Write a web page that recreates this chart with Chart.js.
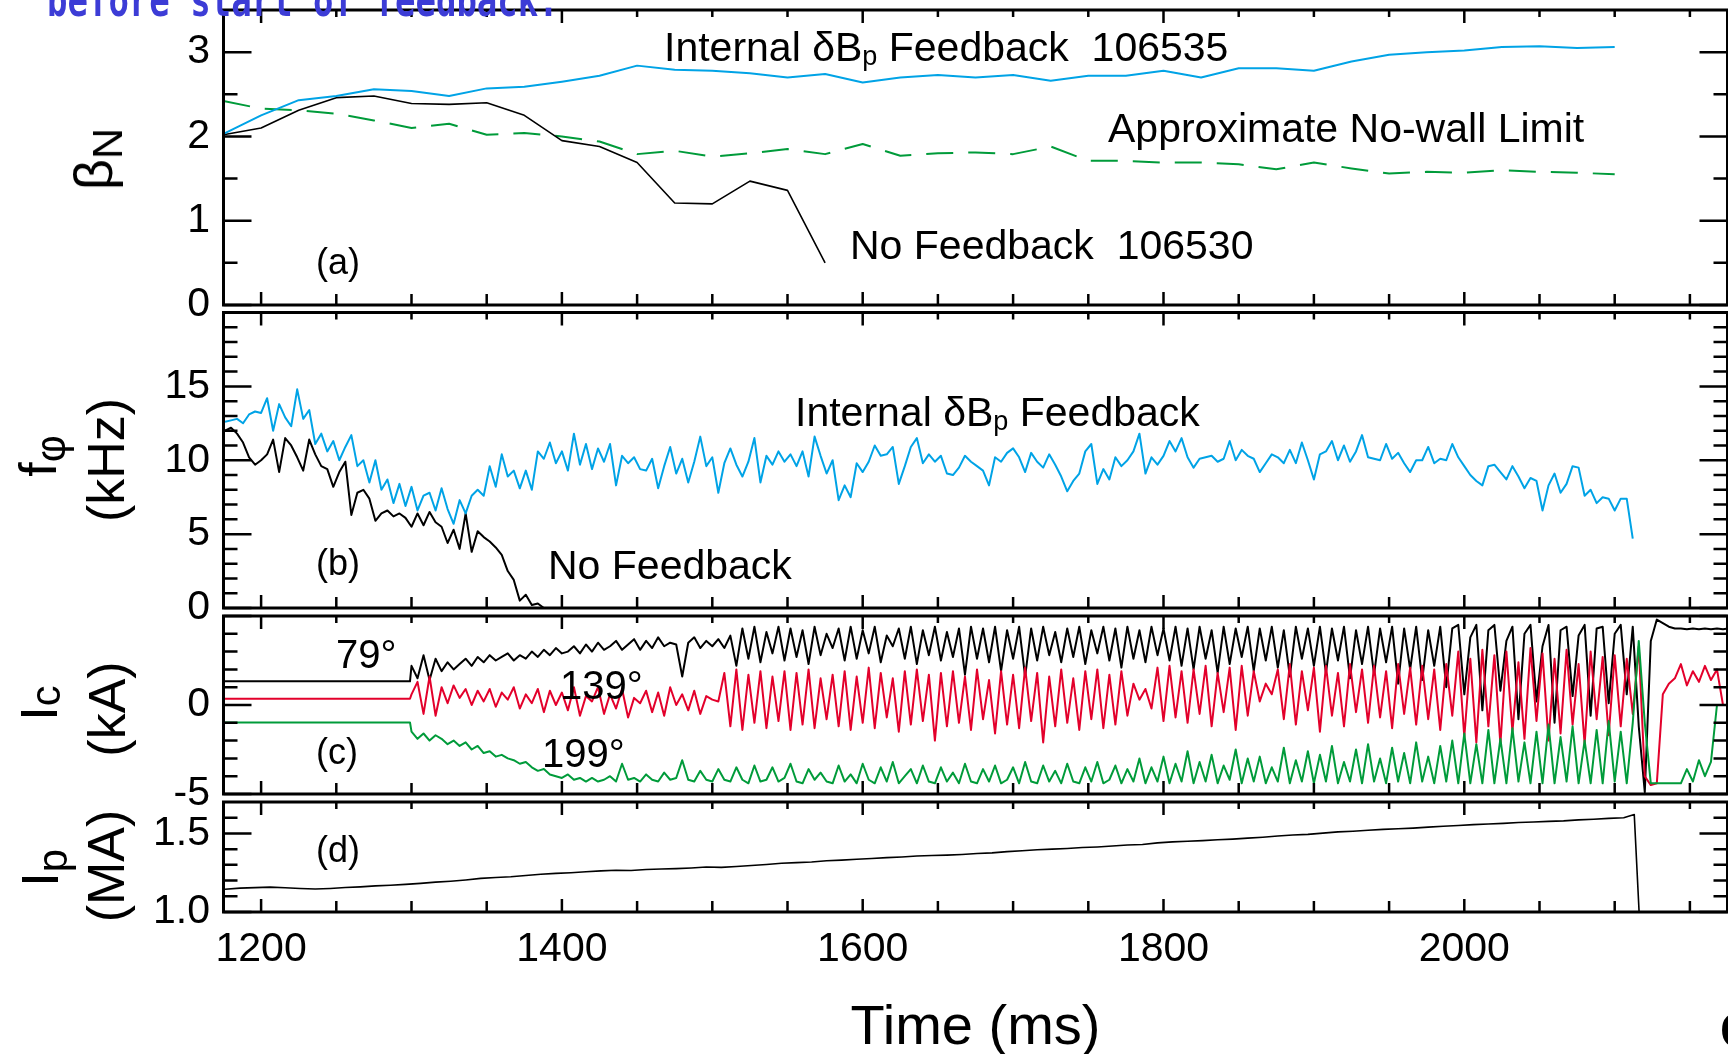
<!DOCTYPE html>
<html>
<head>
<meta charset="utf-8">
<script src="https://cdn.jsdelivr.net/npm/chart.js@4.4.1/dist/chart.umd.min.js"></script>
<style>
  body { margin: 0; background: #fff; width: 1728px; height: 1054px; overflow: hidden; position: relative;
         font-family: "Liberation Sans", Arial, sans-serif; color: #000; }
  canvas { position: absolute; left: 0; top: 0; }
  .t { position: absolute; white-space: nowrap; line-height: 1; font-size: 41px; }
  .sm { font-size: 36px; }
  .deg { font-size: 40px; }
  .sub { font-size: 0.66em; position: relative; top: 0.14em; }
  .yt { position: absolute; white-space: nowrap; line-height: 1; font-size: 52px;
        transform: translate(-50%, -50%) rotate(-90deg); }
  .ys { font-size: 0.8em; position: relative; top: 0.22em; }
  .note { position: absolute; left: 47px; top: -17px; line-height: 1; white-space: pre;
          font: bold 34px "DejaVu Sans Mono", monospace; color: #3c3cd6;
          transform: scaleY(1.35); transform-origin: 0 29px; }
</style>
</head>
<body>
<canvas id="pa" width="1728" height="1054"></canvas>
<canvas id="pb" width="1728" height="1054"></canvas>
<canvas id="pc" width="1728" height="1054"></canvas>
<canvas id="pd" width="1728" height="1054"></canvas>

<div class="note">before start of feedback.</div>

<div class="yt" style="left:93px;top:159px;font-size:54px">β<span class="ys">N</span></div>
<div class="yt" style="left:38px;top:456px">f<span class="ys">φ</span></div>
<div class="yt" style="left:106px;top:460px">(kHz)</div>
<div class="yt" style="left:39px;top:703px">I<span class="ys" style="top:0.08em">c</span></div>
<div class="yt" style="left:107px;top:709px">(kA)</div>
<div class="yt" style="left:40px;top:868px">I<span class="ys">p</span></div>
<div class="yt" style="left:106px;top:866px">(MA)</div>

<div class="t" style="left:664px;top:27px">Internal δB<span class="sub">p</span> Feedback&nbsp;&nbsp;106535</div>
<div class="t" style="left:1108px;top:108px">Approximate No-wall Limit</div>
<div class="t" style="left:850px;top:225px">No Feedback&nbsp;&nbsp;106530</div>
<div class="t sm" style="left:316px;top:244px">(a)</div>
<div class="t" style="left:795px;top:392px">Internal δB<span class="sub">p</span> Feedback</div>
<div class="t sm" style="left:316px;top:545px">(b)</div>
<div class="t" style="left:548px;top:545px">No Feedback</div>
<div class="t deg" style="left:336px;top:634px">79°</div>
<div class="t deg" style="left:560px;top:665px">139°</div>
<div class="t sm" style="left:316px;top:734px">(c)</div>
<div class="t deg" style="left:542px;top:733px">199°</div>
<div class="t sm" style="left:316px;top:832px">(d)</div>
<div class="t" style="left:1720px;top:1006px;font-size:50px;font-weight:bold">C</div>

<script>
// time axis (ms)
const T_MIN = 1175, T_MAX = 2175
const timeLabels = [1200, 1400, 1600, 1800, 2000]
const timeMinor = [1250, 1300, 1350, 1450, 1500, 1550, 1650, 1700, 1750, 1850, 1900, 1950, 2050, 2100, 2150]

// (a) beta_N, one sample every 25 ms from 1175
const betaT0 = 1175, betaDt = 25
const betaFeedback = [2.03, 2.25, 2.43, 2.48, 2.56, 2.54, 2.48, 2.57, 2.59, 2.65,
  2.72, 2.84, 2.79, 2.78, 2.75, 2.70, 2.74, 2.64, 2.70, 2.73,
  2.70, 2.73, 2.66, 2.72, 2.72, 2.78, 2.70, 2.81, 2.81, 2.78,
  2.89, 2.97, 3.00, 3.02, 3.06, 3.07, 3.05, 3.06]
const betaNoWall = [2.42, 2.33, 2.31, 2.27, 2.19, 2.10, 2.15, 2.02, 2.04, 2.00,
  1.94, 1.79, 1.83, 1.76, 1.80, 1.85, 1.79, 1.91, 1.77, 1.80,
  1.81, 1.79, 1.88, 1.71, 1.71, 1.69, 1.69, 1.67, 1.61, 1.69,
  1.62, 1.56, 1.58, 1.57, 1.60, 1.58, 1.57, 1.55]
const betaNoFeedback = [2.02, 2.10, 2.31, 2.46, 2.48, 2.39, 2.38, 2.40, 2.25, 1.95,
  1.88, 1.69, 1.21, 1.20, 1.47, 1.36, 0.50]
const betaTicks = [0, 1, 2, 3]
const betaMinor = [0.5, 1.5, 2.5]

// (b) f_phi (kHz), one sample every 4 ms from 1176
const fT0 = 1176, fDt = 4
const fFeedback = [12.6, 12.7, 12.8, 12.5, 13.1, 13.3, 13.2, 14.2, 12.0, 13.8,
  12.9, 12.3, 14.8, 12.8, 13.4, 11.1, 11.8, 10.6, 11.3, 10.0,
  10.9, 11.7, 9.6, 10.0, 8.5, 10.0, 8.0, 8.7, 7.1, 8.4,
  6.9, 8.2, 6.6, 7.6, 7.8, 6.6, 8.1, 6.7, 5.7, 7.3,
  6.4, 7.6, 8.0, 7.6, 9.6, 8.2, 10.4, 8.9, 9.3, 8.1,
  9.3, 8.0, 10.6, 10.1, 11.2, 9.8, 10.6, 9.3, 11.8, 9.7,
  11.1, 9.4, 10.8, 9.9, 11.1, 8.3, 10.3, 9.8, 10.2, 9.4,
  9.3, 10.1, 8.1, 9.6, 10.9, 9.1, 10.1, 8.5, 9.9, 11.6,
  9.6, 10.2, 7.8, 9.8, 10.8, 9.7, 8.9, 9.9, 11.5, 8.5,
  10.3, 9.7, 10.6, 9.9, 10.4, 9.6, 10.6, 8.9, 11.6, 10.3,
  9.1, 10.0, 7.3, 8.3, 7.5, 9.8, 9.2, 9.9, 11.0, 10.3,
  10.4, 10.9, 8.4, 9.6, 10.9, 11.5, 9.8, 10.4, 9.9, 10.3,
  9.1, 9.0, 9.5, 10.3, 9.9, 9.6, 9.3, 8.3, 10.2, 9.9,
  10.5, 10.8, 10.2, 9.2, 10.5, 9.9, 9.5, 10.4, 9.7, 8.9,
  7.9, 8.6, 9.1, 10.6, 11.1, 8.4, 9.4, 8.7, 10.2, 9.6,
  10.0, 10.6, 11.8, 9.1, 10.2, 9.7, 10.3, 11.3, 10.6, 11.5,
  10.2, 9.5, 10.1, 10.2, 10.3, 9.9, 10.1, 11.3, 10.0, 10.7,
  10.3, 10.1, 9.2, 9.8, 10.4, 10.2, 9.8, 10.7, 9.8, 11.2,
  10.0, 8.7, 10.4, 10.6, 11.3, 10.0, 11.0, 9.9, 10.6, 11.7,
  10.2, 10.1, 10.0, 11.1, 10.1, 10.5, 9.8, 9.2, 10.0, 10.0,
  10.9, 9.8, 10.1, 10.0, 11.1, 10.2, 9.6, 9.0, 8.6, 8.3,
  9.6, 9.7, 9.2, 8.7, 9.6, 8.9, 8.1, 8.8, 8.6, 6.6,
  8.3, 9.1, 7.8, 8.4, 9.6, 9.5, 7.6, 8.0, 7.1, 7.5,
  7.4, 6.6, 7.4, 7.4, 4.7]
const fNoFeedback = [12.0, 12.2, 11.8, 11.2, 10.2, 9.7, 10.0, 10.4, 11.4, 9.2,
  11.5, 11.0, 10.2, 9.3, 11.4, 10.4, 9.6, 9.4, 8.2, 9.2,
  9.9, 6.3, 7.8, 8.0, 7.4, 5.9, 6.4, 6.6, 6.2, 6.4,
  6.1, 5.5, 6.4, 5.6, 6.5, 5.8, 5.5, 4.4, 5.3, 4.0,
  6.4, 3.8, 5.2, 4.8, 4.5, 4.1, 3.6, 2.5, 1.9, 0.5,
  0.9, 0.2, 0.3, 0.0, -0.2]
const fTicks = [0, 5, 10, 15]
const fMinor = [1, 2, 3, 4, 6, 7, 8, 9, 11, 12, 13, 14, 16, 17, 18, 19]

// (c) coil currents (kA): flat until 1300, then one sample every 4 ms
const icPreT = [1175, 1299]
const ic79Pre = 1.33, ic139Pre = 0.35, ic199Pre = -0.98
const icT0 = 1300, icDt = 4
const ic79 = [2.2, 1.5, 2.8, 1.4, 2.6, 1.9, 2.4, 2.0, 2.3, 2.6,
  2.2, 2.7, 2.4, 2.8, 2.5, 2.7, 2.9, 2.5, 2.8, 2.6,
  3.0, 2.7, 3.1, 2.8, 3.2, 2.9, 3.0, 3.3, 2.9, 3.4,
  3.0, 3.5, 3.1, 3.3, 3.6, 3.1, 3.4, 3.7, 3.1, 3.6,
  3.2, 3.8, 3.3, 3.5, 3.4, 1.6, 3.5, 3.8, 3.2, 3.6,
  3.3, 3.7, 3.2, 3.9, 2.2, 4.3, 2.6, 4.4, 2.4, 4.1,
  2.9, 4.4, 2.5, 4.3, 2.7, 4.2, 2.3, 4.4, 2.8, 4.0,
  3.2, 4.3, 2.5, 4.4, 2.6, 4.2, 2.9, 4.4, 2.4, 3.9,
  3.3, 4.3, 2.6, 4.4, 2.3, 4.2, 2.8, 4.4, 2.5, 4.1,
  2.7, 4.3, 1.7, 4.4, 2.6, 4.3, 2.4, 4.4, 1.9, 4.2,
  2.6, 4.4, 1.6, 4.3, 2.5, 4.4, 2.8, 4.1, 2.4, 4.3,
  2.7, 4.4, 2.3, 4.2, 2.9, 4.4, 2.5, 4.3, 2.1, 4.4,
  2.6, 4.2, 2.4, 4.4, 2.8, 4.3, 2.5, 4.4, 2.2, 4.3,
  2.0, 4.4, 2.6, 4.2, 1.8, 4.4, 2.3, 4.3, 2.7, 4.4,
  1.9, 4.3, 2.5, 4.4, 2.1, 4.2, 1.6, 4.4, 2.6, 4.3,
  2.2, 4.4, 1.8, 4.3, 2.5, 4.4, 1.5, 4.2, 2.3, 4.4,
  1.7, 4.3, 2.4, 4.4, 1.2, 4.3, 2.0, 4.4, 1.4, 4.2,
  2.2, 4.4, 1.0, 4.3, 4.5, 0.6, 3.8, 4.5, -0.3, 4.2,
  4.5, 0.8, 3.6, 4.4, -0.8, 4.0, 4.5, 0.2, 3.3, 4.5,
  -1.0, 4.2, 4.4, 0.5, 3.9, 4.5, -0.6, 4.3, 4.4, 0.1,
  4.0, 4.5, 0.6, 4.4, -1.2, -4.9, 3.6, 4.8, 4.6, 4.4,
  4.3, 4.3, 4.25, 4.3, 4.25, 4.3, 4.25, 4.3, 4.25, 4.3]
const ic139 = [0.6, 1.3, -0.5, 1.6, -0.6, 1.0, 0.1, 1.1, 0.4, 0.9,
  0.0, 0.8, 0.2, 0.9, -0.1, 0.7, 0.3, 1.0, -0.2, 0.6,
  0.1, 0.9, -0.4, 0.8, 0.0, 0.7, -0.3, 1.0, -0.6, 0.5,
  0.2, 1.0, -0.5, 0.6, -0.2, 0.9, -0.7, 0.4, 0.1, 0.8,
  -0.4, 0.7, -0.6, 1.0, 0.0, 0.6, -0.3, 0.8, -0.5, 0.5,
  0.3, 0.2, 1.8, -1.2, 2.0, -1.4, 1.7, -1.0, 1.9, -1.3,
  1.6, -0.9, 1.9, -1.4, 1.8, -1.1, 2.0, -1.3, 1.5, -0.8,
  1.7, -1.2, 1.9, -1.4, 1.6, -1.0, 2.1, -1.3, 1.8, -0.7,
  1.5, -1.5, 1.9, -1.1, 2.0, -0.9, 1.7, -2.0, 1.8, -1.2,
  1.9, -1.0, 1.6, -1.4, 2.0, -0.8, 1.4, -1.6, 1.9, -1.1,
  1.7, -1.3, 2.1, -0.9, 1.8, -2.1, 1.6, -1.2, 2.0, -1.0,
  1.5, -1.4, 1.9, -0.8, 2.0, -1.3, 1.7, -1.1, 1.9, -0.6,
  1.2, 0.3, 0.9, -0.2, 2.1, -0.9, 2.2, -0.7, 1.9, -1.0,
  2.0, -0.5, 2.2, -1.2, 1.8, -0.4, 2.1, -1.4, 2.2, -0.6,
  1.9, 0.2, 1.2, 0.6, 2.0, -0.8, 2.3, -1.1, 1.9, -0.3,
  2.1, -1.5, 2.2, -0.6, 1.8, -1.2, 2.3, -0.4, 2.0, -1.0,
  2.2, -0.7, 1.9, -1.3, 2.3, -0.5, 2.1, -1.1, 2.2, -0.8,
  2.0, -1.4, 2.3, -0.6, 3.0, -1.8, 2.6, -2.1, 3.1, -1.2,
  2.8, -2.2, 3.0, -1.5, 2.4, -1.9, 3.2, -0.9, 2.9, -2.0,
  2.6, -1.6, 3.1, -1.1, 2.3, -2.2, 3.0, -0.8, 2.7, -1.7,
  2.8, -1.2, 2.6, -0.5, 3.3, -4.0, -4.5, -4.4, 0.6, 1.2,
  1.5, 2.3, 1.1, 1.9, 1.3, 2.2, 1.4, 2.0, 0.0, 0.0]
const ic199 = [-1.5, -1.9, -1.6, -2.0, -1.7, -1.9, -2.2, -2.0, -2.3, -2.1,
  -2.5, -2.3, -2.7, -2.6, -2.9, -2.8, -3.0, -3.1, -3.3, -3.2,
  -3.5, -3.7, -3.6, -3.9, -4.0, -4.1, -3.9, -4.2, -4.1, -4.3,
  -4.1, -4.3, -4.2, -4.0, -4.3, -3.3, -4.2, -4.1, -4.3, -3.9,
  -4.2, -4.3, -3.8, -4.2, -4.1, -3.1, -4.2, -4.3, -3.7, -4.2,
  -4.3, -3.6, -4.2, -4.3, -3.5, -4.2, -4.4, -3.4, -4.3, -4.2,
  -3.5, -4.3, -4.1, -3.3, -4.3, -4.4, -3.6, -4.2, -3.8, -4.3,
  -4.4, -3.4, -4.3, -3.9, -4.4, -3.3, -4.2, -4.4, -3.5, -4.3,
  -3.2, -4.4, -4.0, -3.6, -4.4, -3.4, -4.3, -4.4, -3.5, -4.3,
  -3.8, -4.4, -3.3, -4.3, -4.4, -3.6, -4.3, -3.4, -4.4, -4.2,
  -3.5, -4.4, -3.2, -4.3, -4.4, -3.4, -4.3, -3.7, -4.4, -3.3,
  -4.3, -4.4, -3.5, -4.3, -3.2, -4.4, -4.2, -3.4, -4.4, -3.6,
  -4.3, -3.0, -4.4, -3.5, -4.3, -2.9, -4.4, -3.3, -4.3, -2.6,
  -4.4, -3.2, -4.3, -2.8, -4.4, -3.4, -4.2, -2.5, -4.4, -3.0,
  -4.3, -2.9, -4.4, -3.5, -4.3, -2.4, -4.4, -3.1, -4.3, -2.6,
  -4.4, -2.8, -4.3, -2.3, -4.4, -3.2, -4.3, -2.5, -4.4, -2.2,
  -4.3, -3.0, -4.4, -2.4, -4.3, -2.7, -4.4, -2.1, -4.3, -2.9,
  -4.4, -2.3, -4.3, -2.0, -4.4, -1.6, -4.4, -2.2, -4.4, -1.4,
  -4.4, -1.9, -4.4, -1.3, -4.3, -2.1, -4.4, -1.5, -4.4, -1.1,
  -4.4, -1.8, -4.3, -1.2, -4.4, -2.0, -4.4, -1.4, -4.4, -0.9,
  -4.3, -1.5, -4.4, -1.0, 3.6, -1.0, -4.4, -4.4, -4.4, -4.4,
  -4.4, -4.4, -3.6, -4.3, -3.1, -4.0, -3.2, 0.0, 0.0, 0.0]
const icTicks = [-5, 0]
const icMajor = [-5, 0, 5]
const icMinor = [-4, -3, -2, -1, 1, 2, 3, 4]

// (d) plasma current (MA), one sample every 10 ms from 1176, then the disruption
const ipT0 = 1176, ipDt = 10
const ip = [1.145, 1.152, 1.155, 1.158, 1.154, 1.150, 1.146, 1.150, 1.156, 1.160,
  1.166, 1.170, 1.176, 1.182, 1.190, 1.196, 1.204, 1.214, 1.220, 1.224,
  1.232, 1.240, 1.246, 1.250, 1.256, 1.262, 1.266, 1.264, 1.270, 1.274,
  1.276, 1.280, 1.286, 1.284, 1.290, 1.296, 1.302, 1.310, 1.314, 1.318,
  1.326, 1.330, 1.336, 1.340, 1.346, 1.350, 1.356, 1.360, 1.362, 1.366,
  1.372, 1.376, 1.384, 1.390, 1.396, 1.400, 1.404, 1.410, 1.414, 1.420,
  1.426, 1.430, 1.440, 1.446, 1.450, 1.454, 1.460, 1.464, 1.470, 1.476,
  1.484, 1.490, 1.494, 1.502, 1.510, 1.514, 1.520, 1.526, 1.530, 1.534,
  1.540, 1.546, 1.550, 1.556, 1.560, 1.564, 1.570, 1.573, 1.577, 1.580,
  1.586, 1.590, 1.596, 1.600]
const ipEndT = [2113, 2117]
const ipEndV = [1.62, 0.85]
const ipTicks = [1.0, 1.5]
const ipMinor = [1.1, 1.2, 1.3, 1.4, 1.6]

const BLUE = '#00a3e6', GREEN = '#009b3a', RED = '#e3002b', BLACK = '#000'
const AXIS_W = 223.5

Chart.defaults.font.family = '"Liberation Sans", Arial, sans-serif'
Chart.defaults.color = '#000'

const pts = (t0, dt, vals) => vals.map((v, i) => ({ x: t0 + i * dt, y: v }))
const flat = (v) => icPreT.map(t => ({ x: t, y: v }))

// box with inward ticks on all four sides
const frame = {
  id: 'frame',
  afterDraw(chart, args, o) {
    const { ctx, chartArea: a, scales: { x, y } } = chart
    ctx.save()
    ctx.strokeStyle = '#000'
    ctx.lineWidth = 2.5
    ctx.beginPath()
    const yTick = (v, len) => {
      const p = y.getPixelForValue(v)
      ctx.moveTo(a.left, p); ctx.lineTo(a.left + len, p)
      ctx.moveTo(a.right, p); ctx.lineTo(a.right - len, p)
    }
    const xTick = (v, top, bottom) => {
      const p = x.getPixelForValue(v)
      ctx.moveTo(p, a.top); ctx.lineTo(p, a.top + top)
      ctx.moveTo(p, a.bottom); ctx.lineTo(p, a.bottom - bottom)
    }
    o.yMajor.forEach(v => yTick(v, 28))
    o.yMinor.forEach(v => yTick(v, 14))
    timeLabels.forEach(v => xTick(v, 13, 13))
    timeMinor.forEach(v => xTick(v, 7, 11))
    ctx.stroke()
    ctx.lineWidth = 3
    ctx.strokeRect(a.left, a.top, a.right - a.left, a.bottom - a.top)
    ctx.restore()
  }
}

function line(data, color, width, extra) {
  return Object.assign({ data, borderColor: color, borderWidth: width, fill: false }, extra || {})
}

function makePanel(id, cfg) {
  return new Chart(document.getElementById(id), {
    type: 'line',
    data: { datasets: cfg.datasets },
    options: {
      responsive: false,
      animation: false,
      parsing: false,
      devicePixelRatio: 1,
      layout: { padding: { left: 0, right: 0.5, top: cfg.top, bottom: cfg.bottom } },
      elements: { point: { radius: 0 }, line: { tension: 0, borderJoinStyle: 'round' } },
      plugins: {
        legend: { display: false },
        tooltip: { enabled: false },
        frame: { yMajor: cfg.yMajor, yMinor: cfg.yMinor }
      },
      scales: {
        x: cfg.x || { type: 'linear', min: T_MIN, max: T_MAX, display: false },
        y: {
          type: 'linear', min: cfg.min, max: cfg.max,
          afterFit: s => { s.width = AXIS_W; s.paddingTop = 0; s.paddingBottom = 0 },
          afterBuildTicks: s => { s.ticks = cfg.labels.map(v => ({ value: v })) },
          grid: { display: false, drawTicks: false },
          border: { display: false },
          ticks: { color: '#000', font: { size: 41 }, padding: 13.5, callback: cfg.fmt || (v => String(v)) }
        }
      }
    },
    plugins: [frame]
  })
}

// (a)
makePanel('pa', {
  top: 10, bottom: 1054 - 305, min: 0, max: 3.5,
  labels: betaTicks, yMajor: betaTicks, yMinor: betaMinor,
  datasets: [
    line(pts(betaT0, betaDt, betaFeedback), BLUE, 2),
    line(pts(betaT0, betaDt, betaNoFeedback), BLACK, 1.6),
    line(pts(betaT0, betaDt, betaNoWall), GREEN, 2, { borderDash: [27, 15] })
  ]
})

// (b)
makePanel('pb', {
  top: 312.5, bottom: 1054 - 608, min: 0, max: 20,
  labels: fTicks, yMajor: fTicks, yMinor: fMinor,
  datasets: [
    line(pts(fT0, fDt, fFeedback), BLUE, 2),
    line(pts(fT0, fDt, fNoFeedback), BLACK, 2)
  ]
})

// (c)
makePanel('pc', {
  top: 616, bottom: 1054 - 794, min: -5, max: 5,
  labels: icTicks, yMajor: icMajor, yMinor: icMinor,
  datasets: [
    line(flat(ic199Pre).concat(pts(icT0, icDt, ic199)), GREEN, 2),
    line(flat(ic139Pre).concat(pts(icT0, icDt, ic139)), RED, 2),
    line(flat(ic79Pre).concat(pts(icT0, icDt, ic79)), BLACK, 2)
  ]
})

// (d) with the time axis
makePanel('pd', {
  top: 802, bottom: 0, min: 1.0, max: 1.7,
  labels: ipTicks, yMajor: ipTicks, yMinor: ipMinor,
  fmt: v => v.toFixed(1),
  x: {
    type: 'linear', min: T_MIN, max: T_MAX,
    afterFit: s => { s.height = 142; s.paddingLeft = 0; s.paddingRight = 0 },
    afterBuildTicks: s => { s.ticks = timeLabels.map(v => ({ value: v })) },
    grid: { display: false, drawTicks: false },
    border: { display: false },
    ticks: { color: '#000', font: { size: 41 }, padding: 13, maxRotation: 0, autoSkip: false, callback: v => String(v) },
    title: { display: true, text: 'Time (ms)', color: '#000', font: { size: 56, lineHeight: 1 }, padding: { top: 0, bottom: -3 } }
  },
  datasets: [
    line(pts(ipT0, ipDt, ip).concat(ipEndT.map((t, i) => ({ x: t, y: ipEndV[i] }))), BLACK, 1.6)
  ]
})
</script>
</body>
</html>
